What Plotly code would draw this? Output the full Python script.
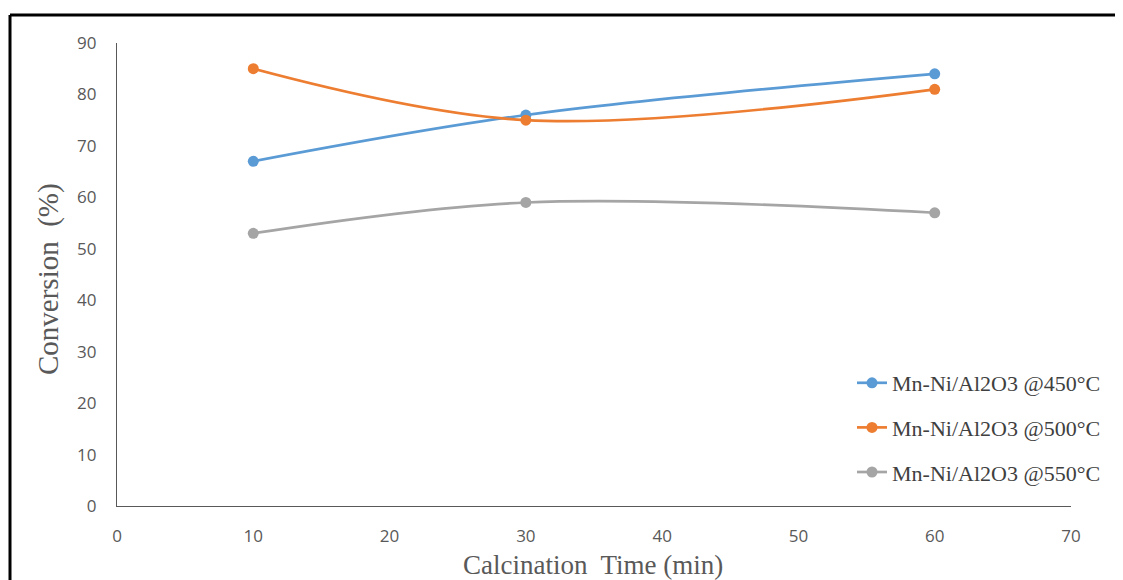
import plotly.graph_objects as go

# Data
calcination_time = [10, 30, 60]
series_names = ["Mn-Ni/Al2O3 @450°C", "Mn-Ni/Al2O3 @500°C", "Mn-Ni/Al2O3 @550°C"]
conv_450 = [67, 76, 84]
conv_500 = [85, 75, 81]
conv_550 = [53, 59, 57]
colors = ["#5B9BD5", "#ED7D31", "#A5A5A5"]

OFF = 8  # page body margin
W, H = 1123 - OFF, 580 - OFF
# target pixel positions in the window
PL, PR, PT, PB = 117, 1071, 43, 506
L, T = PL - OFF, PT - OFF
R, B = W - (PR - OFF), H - (PB - OFF)
pw, ph = PR - PL, PB - PT

def px_x(p):
    return (p - PL) / pw

def px_y(p):
    return (PB - p) / ph

fig = go.Figure()
for i, (name, vals) in enumerate(zip(series_names, [conv_450, conv_500, conv_550])):
    fig.add_trace(go.Scatter(
        x=calcination_time, y=vals, name=name, mode="lines+markers",
        line=dict(color=colors[i], width=2.7, shape="spline", smoothing=1),
        marker=dict(color=colors[i], size=11),
        legendgroup=f"g{i}",
    ))

axis_font = dict(family="Open Sans, Noto Sans, sans-serif", size=17, color="#595959")
serif = "Liberation Serif, Times New Roman, serif"

fig.update_layout(
    width=W, height=H,
    margin=dict(l=L, r=R, t=T, b=B, autoexpand=False),
    paper_bgcolor="white", plot_bgcolor="white",
    showlegend=True,
    legend=dict(
        x=px_x(852), y=px_y(362), xanchor="left", yanchor="top",
        font=dict(family=serif, size=22, color="#404040"),
        traceorder="grouped", tracegroupgap=13,
        bgcolor="rgba(0,0,0,0)", itemwidth=30,
    ),
    xaxis=dict(
        range=[0, 70], dtick=10, tick0=0, showgrid=False, zeroline=False,
        showline=True, linecolor="#595959", linewidth=1.3,
        ticks="", tickfont=axis_font, ticklabelstandoff=14,
    ),
    yaxis=dict(
        range=[0, 90], dtick=10, tick0=0, showgrid=False, zeroline=False,
        showline=True, linecolor="#595959", linewidth=1.3,
        ticks="", tickfont=axis_font, ticklabelstandoff=16,
    ),
    annotations=[
        dict(text="Calcination  Time (min)", xref="paper", yref="paper",
             x=px_x(593), y=px_y(565), xanchor="center", yanchor="middle",
             showarrow=False, font=dict(family=serif, size=27, color="#595959")),
        dict(text="Conversion  (%)", xref="paper", yref="paper",
             x=px_x(48), y=px_y(279), xanchor="center", yanchor="middle",
             showarrow=False, font=dict(family=serif, size=29, color="#595959"),
             textangle=-90),
    ],
    shapes=[
        dict(type="line", xref="paper", yref="paper",
             x0=px_x(10), x1=px_x(1130), y0=px_y(15), y1=px_y(15),
             line=dict(color="black", width=3)),
        dict(type="line", xref="paper", yref="paper",
             x0=px_x(10), x1=px_x(10), y0=px_y(15), y1=px_y(590),
             line=dict(color="black", width=3)),
    ],
)

fig.write_html("out.html")
